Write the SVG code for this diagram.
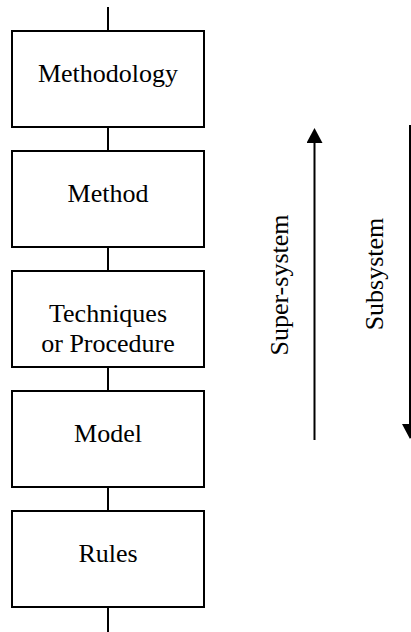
<svg xmlns="http://www.w3.org/2000/svg" width="411" height="632" viewBox="0 0 411 632">
<style>
.box{fill:#fff;stroke:#000;stroke-width:2}
.ln{stroke:#000;stroke-width:2;fill:none}
text{font-family:"Liberation Serif","Times New Roman",serif;font-size:26px;fill:#000;text-anchor:middle}
</style>
<defs>
<marker id="ah" markerWidth="16" markerHeight="16" refX="0" refY="8" orient="auto" markerUnits="userSpaceOnUse">
<path d="M0,0 L15,8 L0,16 Z" fill="#000"/>
</marker>
</defs>
<rect width="411" height="632" fill="#fff"/>
<g id="connectors">
<line class="ln" x1="108" y1="7" x2="108" y2="31"/>
<line class="ln" x1="108" y1="127" x2="108" y2="151"/>
<line class="ln" x1="108" y1="247" x2="108" y2="271"/>
<line class="ln" x1="108" y1="367" x2="108" y2="391"/>
<line class="ln" x1="108" y1="487" x2="108" y2="511"/>
<line class="ln" x1="108" y1="607" x2="108" y2="632"/>
<line class="ln" x1="314.5" y1="440" x2="314.5" y2="143" marker-end="url(#ah)"/>
<line class="ln" x1="410" y1="125" x2="410" y2="424" marker-end="url(#ah)"/>
</g>
<g id="methodology">
<rect class="box" x="12" y="31" width="192" height="96"/>
<text x="108" y="82">Methodology</text>
</g>
<g id="method">
<rect class="box" x="12" y="151" width="192" height="96"/>
<text x="108" y="202">Method</text>
</g>
<g id="techniques">
<rect class="box" x="12" y="271" width="192" height="96"/>
<text x="108" y="322">Techniques</text>
<text x="108" y="352">or Procedure</text>
</g>
<g id="model">
<rect class="box" x="12" y="391" width="192" height="96"/>
<text x="108" y="442">Model</text>
</g>
<g id="rules">
<rect class="box" x="12" y="511" width="192" height="96"/>
<text x="108" y="562">Rules</text>
</g>
<g id="labels">
<text transform="translate(288,285) rotate(-90)">Super-system</text>
<text transform="translate(383,274) rotate(-90)">Subsystem</text>
</g>
</svg>
